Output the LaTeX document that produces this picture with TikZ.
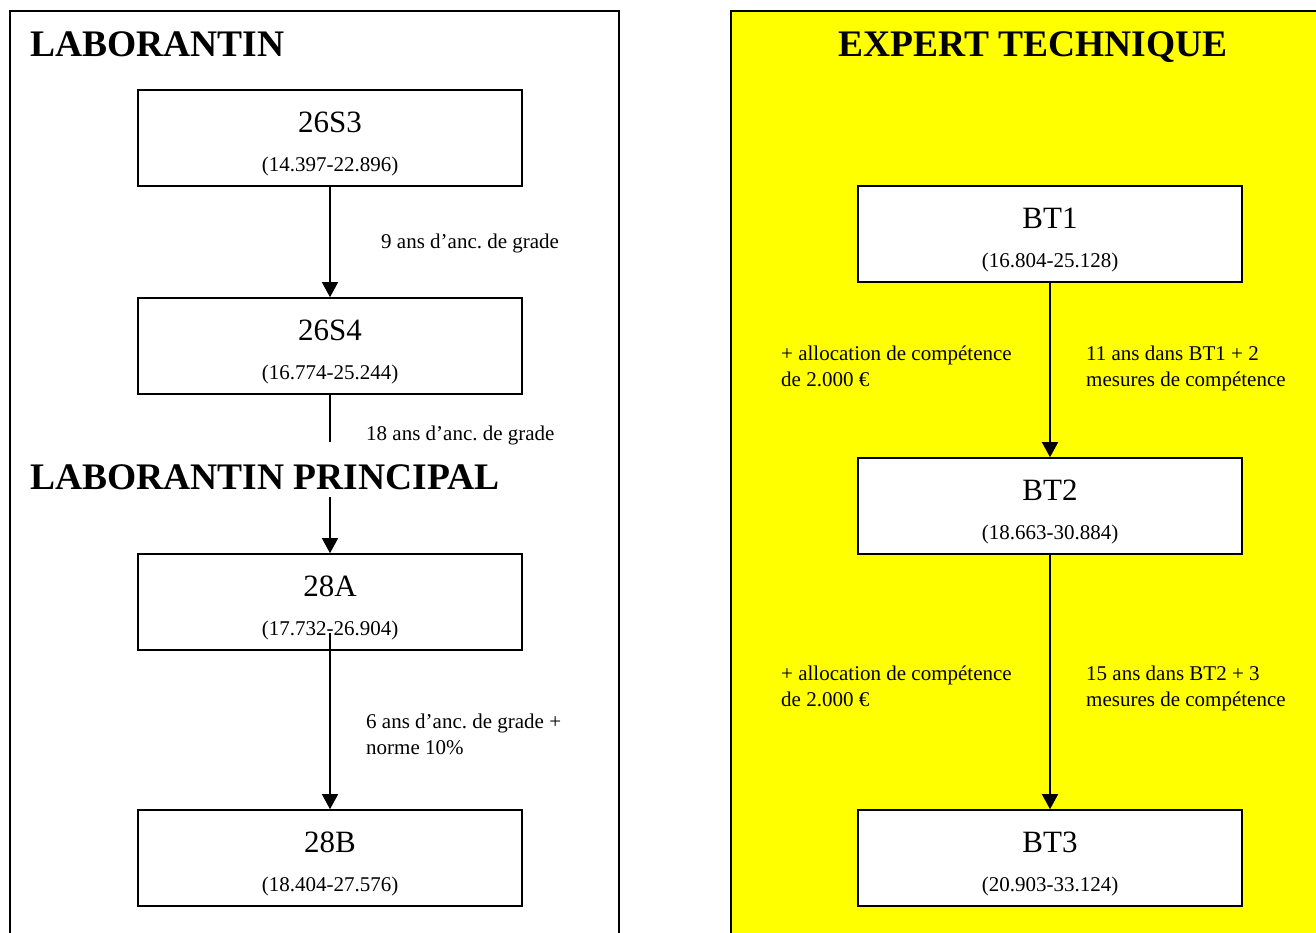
\documentclass[tikz,border=0pt]{standalone}
\usepackage{fontspec}
\setmainfont{Liberation Serif}
\usetikzlibrary{arrows.meta,calc}
\definecolor{panelyellow}{RGB}{255,255,0}
\frenchspacing
\tikzset{
  gradebox/.style={draw=black,line width=1.6pt,fill=white,minimum width=384pt,minimum height=96pt,inner sep=0pt},
  frame/.style={draw=black,line width=1.4pt},
  maintext/.style={anchor=base,inner sep=0pt,font=\fontsize{31}{36}\selectfont},
  rangetext/.style={anchor=base,inner sep=0pt,font=\fontsize{21}{26}\selectfont},
  labeltext/.style={anchor=base west,inner sep=0pt,align=left,font=\fontsize{21}{26}\selectfont},
  titletext/.style={inner sep=0pt,font=\fontsize{37.5}{42}\selectfont\bfseries},
  conn/.style={line width=1.4pt},
  arr/.style={conn,-{Triangle[length=15pt,width=16pt]}}
}
\begin{document}
\begin{tikzpicture}[x=1pt,y=-1pt]
\useasboundingbox (0,0) rectangle (1316,933);
\clip (0,0) rectangle (1316,933);
\fill[white] (0,0) rectangle (1316,933);
% panels
\draw[frame] (10,11) rectangle (619,960);
\draw[frame,fill=panelyellow] (731,11) rectangle (1340,960);
% titles
\node[titletext,anchor=base west] (t1) at (30,57) {LABORANTIN};
\node[titletext,anchor=base] (t3) at (1033,57) {EXPERT TECHNIQUE};
% left boxes
\node[gradebox] (s3) at (330,138) {};
\node[gradebox] (s4) at (330,346) {};
\node[gradebox] (a28) at (330,602) {};
\node[gradebox] (b28) at (330,858) {};
\node[maintext] (s3m) at ($(s3.north)+(0,43)$) {26S3};
\node[rangetext] (s3r) at ($(s3.north)+(0,82)$) {(14.397-22.896)};
\node[maintext] (s4m) at ($(s4.north)+(0,43)$) {26S4};
\node[rangetext] (s4r) at ($(s4.north)+(0,82)$) {(16.774-25.244)};
\node[maintext] (a28m) at ($(a28.north)+(0,43)$) {28A};
\node[rangetext] (a28r) at ($(a28.north)+(0,82)$) {(17.732-26.904)};
\node[maintext] (b28m) at ($(b28.north)+(0,43)$) {28B};
\node[rangetext] (b28r) at ($(b28.north)+(0,82)$) {(18.404-27.576)};
% left connectors
\draw[arr] (s3.south) -- (s4.north);
\node[labeltext] (l1) at (381,248) {9 ans d’anc. de grade};
\coordinate (g1) at (330,442);
\coordinate (g2) at (330,497);
\draw[conn] (s4.south) -- (g1);
\node[labeltext] (l2) at (366,440) {18 ans d’anc. de grade};
\node[titletext,anchor=base west] (t2) at (30,489) {LABORANTIN PRINCIPAL};
\draw[arr] (g2) -- (a28.north);
\coordinate (a0) at (330,633);
\draw[arr] (a0) -- (b28.north);
\node[labeltext] (l3) at (366,754) {6 ans d’anc. de grade +\\norme 10\%};
% right boxes
\node[gradebox] (bt1) at (1050,234) {};
\node[gradebox] (bt2) at (1050,506) {};
\node[gradebox] (bt3) at (1050,858) {};
\node[maintext] (bt1m) at ($(bt1.north)+(0,43)$) {BT1};
\node[rangetext] (bt1r) at ($(bt1.north)+(0,82)$) {(16.804-25.128)};
\node[maintext] (bt2m) at ($(bt2.north)+(0,43)$) {BT2};
\node[rangetext] (bt2r) at ($(bt2.north)+(0,82)$) {(18.663-30.884)};
\node[maintext] (bt3m) at ($(bt3.north)+(0,43)$) {BT3};
\node[rangetext] (bt3r) at ($(bt3.north)+(0,82)$) {(20.903-33.124)};
\draw[arr] (bt1.south) -- (bt2.north);
\draw[arr] (bt2.south) -- (bt3.north);
\node[labeltext] (r1) at (781,386) {+ allocation de compétence\\de 2.000 €};
\node[labeltext] (r2) at (1086,386) {11 ans dans BT1 + 2\\mesures de compétence};
\node[labeltext] (r3) at (781,706) {+ allocation de compétence\\de 2.000 €};
\node[labeltext] (r4) at (1086,706) {15 ans dans BT2 + 3\\mesures de compétence};
\end{tikzpicture}
\end{document}
